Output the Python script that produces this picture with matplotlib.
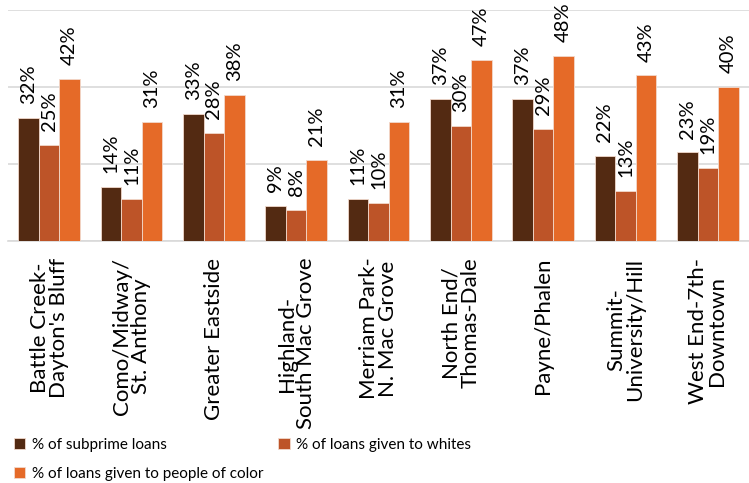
import matplotlib.pyplot as plt
import numpy as np

plt.rcParams['font.family'] = ['Lato', 'DejaVu Sans']

# neighbourhoods and loan shares (%)
districts = ["Battle Creek-\nDayton's Bluff", "Como/Midway/\nSt. Anthony", "Greater Eastside",
             "Highland-\nSouth Mac Grove", "Merriam Park-\nN. Mac Grove", "North End/\nThomas-Dale",
             "Payne/Phalen", "Summit-\nUniversity/Hill", "West End-7th-\nDowntown"]
subprime = [32, 14, 33, 9, 11, 37, 37, 22, 23]
whites = [25, 11, 28, 8, 10, 30, 29, 13, 19]
people_of_color = [42, 31, 38, 21, 31, 47, 48, 43, 40]

series_names = ["% of subprime loans", "% of loans given to whites",
                "% of loans given to people of color"]
colors = ['#532A12', '#BD5428', '#E56A28']

fig = plt.figure(figsize=(7.49, 4.83), dpi=100)
ax = fig.add_axes([8 / 749, 1 - 241 / 483, 1 - 8 / 749, 231 / 483])

x = np.arange(len(districts))
w = 0.25
bars = []
for i, vals in enumerate([subprime, whites, people_of_color]):
    b = ax.bar(x + (i - 1) * w, vals, w, color=colors[i], edgecolor='#F2D9CC',
               linewidth=0.6, label=series_names[i], zorder=3)
    ax.bar_label(b, labels=[f"{v}%" for v in vals], padding=10, rotation=90,
                 fontsize=14.5, color='black')
    bars.append(b)

ax.set_xlim(-0.5, len(districts) - 0.5)
ax.set_ylim(0, 60)
ax.set_yticks([0, 20, 40, 60])
ax.yaxis.grid(True, color='#D9D9D9', linewidth=1.2, zorder=0)
ax.tick_params(axis='y', left=False, labelleft=False)
ax.tick_params(axis='x', length=0, pad=12)
ax.set_xticks(x)
ax.set_xticklabels(districts, rotation=90, fontsize=16, ha='center', va='top',
                   multialignment='center', linespacing=0.92)
for s in ['left', 'right', 'top']:
    ax.spines[s].set_visible(False)
ax.spines['bottom'].set_color('#D9D9D9')
ax.spines['bottom'].set_linewidth(1.2)

# row-major ordering like the original legend
handles = [bars[0], bars[2], bars[1]]
labels = [series_names[0], series_names[2], series_names[1]]
fig.legend(handles, labels, ncol=2, loc='upper left', bbox_to_anchor=(14 / 749, 1 - 438 / 483),
           frameon=False, fontsize=11, handlelength=0.75, handleheight=0.75,
           handletextpad=0.4, columnspacing=1.0, labelspacing=0.95, borderpad=0,
           borderaxespad=0)

fig.savefig('out.png', dpi=100)
